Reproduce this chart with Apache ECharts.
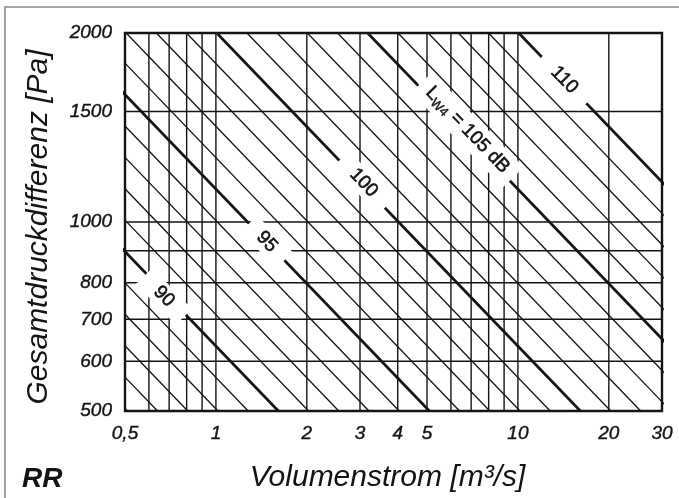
<!DOCTYPE html>
<html><head><meta charset="utf-8">
<script src="https://cdn.jsdelivr.net/npm/echarts@6/dist/echarts.min.js"></script>
<style>html,body{margin:0;padding:0;background:#fff}#c{width:679px;height:498px}</style>
</head><body><div id="c"></div>
<script>
// Axis ticks (labelled) and grid lines
const xTicks = [0.5, 1, 2, 3, 4, 5, 10, 20, 30];
const yTicks = [500, 600, 700, 800, 1000, 1500, 2000];
const xGrid = [0.6, 0.7, 0.8, 0.9, 1, 2, 3, 4, 5, 6, 7, 8, 9, 10, 20];
const yGrid = [600, 700, 800, 900, 1000, 1500];

// Lines of constant sound power level L_W4 [dB]: volume flow where each line meets 500 Pa and 2000 Pa
const levels  = [85, 86, 87, 88, 89, 90, 91, 92, 93, 94, 95, 96, 97, 98, 99, 100, 101, 102, 103, 104, 105, 106, 107, 108, 109, 110];
const vAt500  = [0.509, 0.641, 0.807, 1.016, 1.279, 1.61, 2.027, 2.552, 3.213, 4.045, 5.092, 6.411, 8.07, 10.16, 12.79, 16.1, 20.3, 25.5, 32.1, 40.4, 50.9, 64.1, 80.7, 101.6, 127.9, 161];
const vAt2000 = [0.0318, 0.0401, 0.0504, 0.0635, 0.0799, 0.1006, 0.1267, 0.1595, 0.2008, 0.2528, 0.3183, 0.4007, 0.5044, 0.635, 0.799, 1.006, 1.267, 1.595, 2.008, 2.528, 3.18, 4.007, 5.044, 6.35, 7.99, 10.06];
const majorLevels = [90, 95, 100, 105, 110];

// Level labels placed on the lines
const labelTexts = ['90', '95', '100', '{l|L}{s|W4}{l| = 105 dB}', '110'];
const labelV = [0.673, 1.474, 3.085, 6.81, 14.25];
const labelP = [761, 930, 1155, 1402, 1684];

const INK = '#141414';
const FONT = 'Liberation Sans, Arial, Helvetica, sans-serif';
const labelPads = [[2, 18], [2, 15], [2, 17], [3, 10], [2, 17]];

const series = [];
xGrid.forEach(v => series.push({
  type: 'line', data: [[v, 500], [v, 2000]], symbol: 'none', silent: true,
  lineStyle: { color: INK, width: 1.4 }, z: 2
}));
yGrid.forEach(p => series.push({
  type: 'line', data: [[0.5, p], [30, p]], symbol: 'none', silent: true,
  lineStyle: { color: INK, width: 1.5 }, z: 2
}));
levels.forEach((L, i) => series.push({
  type: 'line', name: 'L' + L, data: [[vAt2000[i], 2000], [vAt500[i], 500]],
  symbol: 'none', silent: true, clip: true,
  lineStyle: { color: INK, width: majorLevels.includes(L) ? 2.7 : 1.3 }, z: 3
}));
const txt = { fontSize: 19, fontFamily: FONT, color: INK, textBorderColor: INK, textBorderWidth: 0.6 };
series.push({
  type: 'scatter', z: 10, symbolSize: 1, itemStyle: { color: '#fff' }, silent: true,
  data: labelTexts.map((t, i) => ({
    value: [labelV[i], labelP[i]],
    label: Object.assign({
      show: true, position: 'inside', rotate: -46, formatter: t, opacity: 1,
      backgroundColor: '#ffffff', padding: labelPads[i],
      rich: {
        l: Object.assign({}, txt),
        s: Object.assign({}, txt, { fontSize: 13, textBorderWidth: 0.4, padding: [10, 0, 0, 0] })
      }
    }, txt)
  }))
});

const axisText = { fontSize: 19, fontStyle: 'italic', fontFamily: FONT, color: INK, textBorderColor: INK, textBorderWidth: 0.4 };
const chart = echarts.init(document.getElementById('c'), null, { renderer: 'canvas' });
chart.setOption({
  animation: false,
  backgroundColor: '#fff',
  grid: { left: 125, top: 33, right: 17, bottom: 86, show: true, borderColor: INK, borderWidth: 2.4, backgroundColor: 'transparent' },
  xAxis: {
    type: 'log', logBase: 10, min: 0.5, max: 30,
    name: 'Volumenstrom [m³/s]', nameLocation: 'middle', nameGap: 52,
    nameTextStyle: { fontSize: 30, fontStyle: 'italic', fontFamily: FONT, color: INK, padding: [0, 12, 0, 0] },
    axisLine: { show: false }, axisTick: { show: false }, splitLine: { show: false }, minorSplitLine: { show: false },
    axisLabel: Object.assign({
      customValues: xTicks, margin: 13,
      formatter: v => String(v).replace('.', ',')
    }, axisText)
  },
  yAxis: {
    type: 'log', logBase: 10, min: 500, max: 2000,
    name: 'Gesamtdruckdifferenz [Pa]', nameLocation: 'middle', nameGap: 71, nameRotate: 90,
    nameTextStyle: { fontSize: 30, fontStyle: 'italic', fontFamily: FONT, color: INK, padding: [0, 10, 0, 0] },
    axisLine: { show: false }, axisTick: { show: false }, splitLine: { show: false }, minorSplitLine: { show: false },
    axisLabel: Object.assign({
      customValues: yTicks, margin: 13,
      formatter: v => String(v)
    }, axisText)
  },
  graphic: [
    { type: 'rect', silent: true, shape: { x: 5, y: 7, width: 720, height: 540 }, style: { fill: 'none', stroke: '#8a8a8a', lineWidth: 1.6 } },
    { type: 'text', left: 22, top: 465, silent: true, style: { text: 'RR', font: 'italic bold 28px ' + FONT, fill: INK } }
  ],
  series: series
});
</script></body></html>
